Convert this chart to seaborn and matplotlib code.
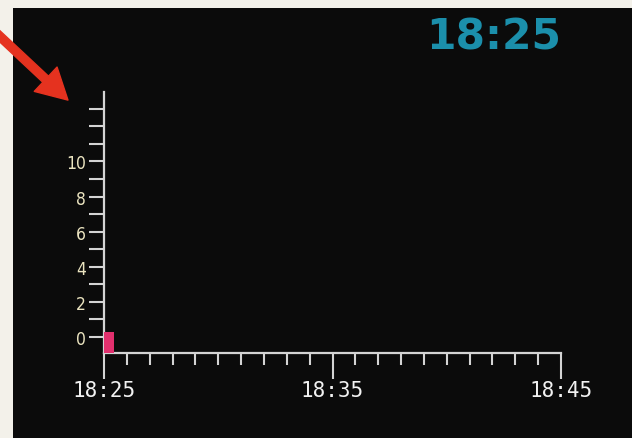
import matplotlib
matplotlib.use("Agg")
import matplotlib.pyplot as plt
import seaborn as sns
from matplotlib.patches import Rectangle, FancyArrowPatch

# Trend display: one reading since 18:25, clock shows the current time
clock_label = "18:25"
time_labels = ["18:25", "18:35", "18:45"]
label_minutes = [0, 10, 20]            # minutes after 18:25
minute_ticks = list(range(0, 21))
bar_minutes = [0]
bar_values = [0.25]
y_ticks = list(range(0, 14))
y_labels = ["0", "", "2", "", "4", "", "6", "", "8", "", "10", "", "", ""]

sns.set_theme(style="dark")
plt.rcParams["font.family"] = ["DejaVu Sans"]

W, H = 632, 439
fig = plt.figure(figsize=(W / 100, H / 100), dpi=100)
fig.patch.set_facecolor("#f3f1ea")

# dark screen area
fig.add_artist(Rectangle((13 / W, 0), 1, (H - 9) / H, transform=fig.transFigure,
                         facecolor="#0b0b0b", edgecolor="none", zorder=0))

ax = fig.add_axes([104 / W, (H - 354) / H, 457 / W, 261 / H])
ax.set_facecolor("none")
ymin, ymax = -0.94, 13.97
ax.set_xlim(0, 20)
ax.set_ylim(ymin, ymax)

axis_col = "#d4d4d4"
for s in ["top", "right"]:
    ax.spines[s].set_visible(False)
for s in ["left", "bottom"]:
    ax.spines[s].set_visible(True)
    ax.spines[s].set_color(axis_col)
    ax.spines[s].set_linewidth(1.6)

ax.bar(bar_minutes, [v - ymin for v in bar_values], bottom=ymin, width=0.42,
       align="edge", color="#e2306e", edgecolor="none", linewidth=0, zorder=3)

ax.set_yticks(y_ticks, y_labels)
ax.tick_params(axis="y", which="major", left=True, length=10.8, width=1.5,
               color=axis_col, labelcolor="#ebe4c0", labelsize=12.5, pad=2)
for t in ax.get_yticklabels():
    t.set_family(["DejaVu Sans"])
    t.set_fontstretch("condensed")

ax.set_xticks(label_minutes, time_labels)
ax.set_xticks(minute_ticks, minor=True)
ax.tick_params(axis="x", which="major", bottom=True, length=18.5, width=1.5,
               color=axis_col, labelcolor="#f2f2f2", labelsize=15, pad=1)
ax.tick_params(axis="x", which="minor", bottom=True, length=8.6, width=1.5,
               color=axis_col)
for t in ax.get_xticklabels():
    t.set_family(["DejaVu Sans Mono"])
ax.grid(False)

# current time readout
fig.text(494 / W, 1 - 37 / H, clock_label, color="#1b8fab", fontsize=30.5,
         fontweight="bold", ha="center", va="center")

# red pointer toward the top of the scale
arrow = FancyArrowPatch((-8 / W, 1 - 30 / H), (70 / W, 1 - 103 / H),
                        transform=fig.transFigure,
                        arrowstyle="simple,head_length=22,head_width=24,tail_width=6",
                        mutation_scale=1, color="#e5321f", zorder=5)
fig.add_artist(arrow)

fig.savefig("out.png", dpi=100, facecolor=fig.get_facecolor())
